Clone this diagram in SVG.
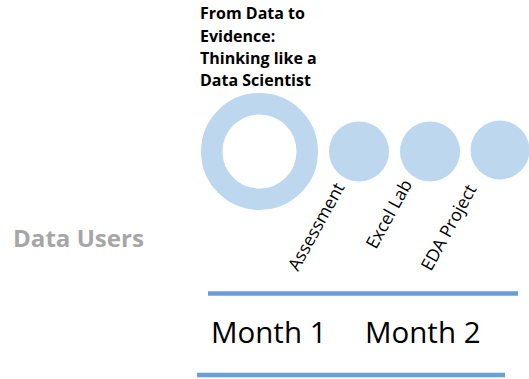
<svg xmlns="http://www.w3.org/2000/svg" width="529" height="379" viewBox="0 0 529 379">
<style>
.title{font-family:"Open Sans","Liberation Sans",sans-serif;font-weight:bold;font-size:16px;fill:#000}
.lbl{font-family:"Open Sans","Liberation Sans",sans-serif;font-size:17.5px;fill:#000}
.month{font-family:"Open Sans","Liberation Sans",sans-serif;font-size:29.5px;fill:#000}
.users{font-family:"Open Sans","Liberation Sans",sans-serif;font-weight:bold;font-size:24px;fill:#a6a6a6}
.dot{fill:#bdd7ee}
.bar{stroke:#6a9ed6;stroke-width:4.5}
</style>
<rect width="529" height="379" fill="#fff"/>
<g id="title">
<text class="title" x="200" y="19">From Data to</text>
<text class="title" x="200" y="42">Evidence:</text>
<text class="title" x="200" y="64">Thinking like a</text>
<text class="title" x="200" y="86">Data Scientist</text>
</g>
<g id="ring"><circle cx="259.5" cy="151.5" r="47.75" fill="none" stroke="#bdd7ee" stroke-width="21.5"/></g>
<g id="assessment"><circle class="dot" cx="359" cy="151.5" r="30"/>
<text class="lbl" transform="translate(298,272) rotate(-61)">Assessment</text></g>
<g id="excel-lab"><circle class="dot" cx="430" cy="151.5" r="30"/>
<text class="lbl" transform="translate(376,250) rotate(-61)">Excel Lab</text></g>
<g id="eda-project"><circle class="dot" cx="500" cy="150" r="29.5"/>
<text class="lbl" transform="translate(431,272) rotate(-61)">EDA Project</text></g>
<g id="data-users"><text class="users" x="13" y="247" textLength="131" lengthAdjust="spacingAndGlyphs">Data Users</text></g>
<g id="connectors">
<line class="bar" x1="208" y1="293.5" x2="518" y2="293.5"/>
<line class="bar" x1="197" y1="375" x2="505" y2="375"/>
</g>
<g id="months">
<text class="month" x="211" y="343">Month 1</text>
<text class="month" x="365" y="343">Month 2</text>
</g>
</svg>
